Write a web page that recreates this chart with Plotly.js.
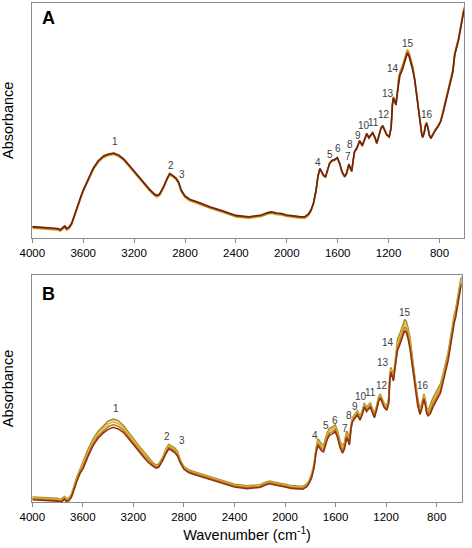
<!DOCTYPE html>
<html>
<head>
<meta charset="utf-8">
<script src="https://cdn.plot.ly/plotly-3.0.1.min.js"></script>
<style>html,body{margin:0;padding:0;background:#fff;}#chart{width:472px;height:548px;}</style>
</head>
<body>
<div id="chart"></div>
<script>
// Wavenumber grid (cm-1) shared by all spectra
const wavenumbers = [4000,3900,3800,3780,3760,3745,3730,3710,3690,3670,
3650,3620,3600,3560,3520,3480,3440,3400,3360,3320,
3280,3240,3200,3160,3120,3080,3040,3020,3000,2970,
2940,2920,2900,2870,2850,2830,2800,2760,2700,2600,
2500,2400,2300,2200,2150,2120,2080,2040,2000,1950,
1900,1860,1830,1810,1790,1770,1755,1740,1725,1710,
1695,1680,1665,1647,1625,1603,1585,1565,1545,1530,
1512,1500,1490,1478,1468,1450,1427,1407,1390,1372,
1355,1340,1325,1305,1293,1275,1260,1246,1230,1215,
1195,1180,1170,1162,1150,1142,1130,1120,1110,1095,
1080,1065,1053,1040,1025,1010,995,980,965,950,
940,932,920,910,901,890,878,867,850,830,
810,790,770,750,730,710,695,680,670,660,
650,640,630,620,610,600];

// Panel A spectra (relative absorbance)
const absA_yellow = [0.040,0.036,0.032,0.027,0.034,0.043,0.032,0.039,0.056,0.090,
0.124,0.166,0.196,0.247,0.290,0.322,0.341,0.350,0.354,0.345,
0.328,0.303,0.277,0.249,0.224,0.200,0.179,0.173,0.179,0.209,
0.247,0.267,0.260,0.247,0.230,0.196,0.171,0.156,0.145,0.124,
0.107,0.088,0.082,0.090,0.100,0.103,0.098,0.096,0.090,0.085,
0.083,0.082,0.094,0.111,0.144,0.199,0.259,0.291,0.276,0.261,
0.257,0.284,0.312,0.325,0.329,0.338,0.314,0.276,0.257,0.272,
0.310,0.293,0.280,0.327,0.363,0.378,0.410,0.389,0.412,0.440,
0.423,0.434,0.444,0.421,0.399,0.434,0.463,0.474,0.455,0.436,
0.427,0.473,0.571,0.601,0.584,0.571,0.627,0.690,0.711,0.728,
0.754,0.788,0.803,0.792,0.767,0.732,0.680,0.616,0.539,0.480,
0.448,0.433,0.452,0.482,0.493,0.470,0.439,0.429,0.448,0.465,
0.480,0.501,0.547,0.590,0.633,0.675,0.718,0.790,0.818,0.833,
0.854,0.884,0.918,0.952,0.974,0.990];
const absA_orange = [0.044,0.040,0.036,0.031,0.038,0.047,0.036,0.043,0.060,0.094,
0.128,0.170,0.200,0.251,0.294,0.326,0.345,0.354,0.358,0.349,
0.332,0.307,0.281,0.253,0.228,0.204,0.183,0.177,0.183,0.213,
0.251,0.271,0.264,0.251,0.234,0.200,0.175,0.160,0.149,0.128,
0.111,0.092,0.086,0.094,0.104,0.107,0.102,0.100,0.094,0.089,
0.087,0.086,0.098,0.115,0.146,0.201,0.261,0.293,0.278,0.263,
0.259,0.286,0.314,0.327,0.331,0.340,0.316,0.278,0.259,0.274,
0.312,0.295,0.282,0.329,0.365,0.380,0.412,0.391,0.414,0.442,
0.425,0.436,0.446,0.423,0.401,0.436,0.465,0.476,0.457,0.438,
0.429,0.470,0.568,0.598,0.581,0.568,0.624,0.680,0.701,0.718,
0.744,0.778,0.793,0.782,0.757,0.722,0.676,0.612,0.535,0.476,
0.444,0.429,0.448,0.478,0.489,0.466,0.435,0.425,0.444,0.461,
0.476,0.497,0.540,0.583,0.626,0.668,0.711,0.783,0.811,0.826,
0.847,0.877,0.911,0.945,0.967,0.983];
const absA_dark = [0.047,0.043,0.039,0.034,0.041,0.050,0.039,0.046,0.063,0.097,
0.131,0.173,0.203,0.254,0.297,0.329,0.348,0.357,0.361,0.352,
0.335,0.310,0.284,0.256,0.231,0.207,0.186,0.180,0.186,0.216,
0.254,0.274,0.267,0.254,0.237,0.203,0.178,0.163,0.152,0.131,
0.114,0.095,0.089,0.097,0.107,0.110,0.105,0.103,0.097,0.092,
0.090,0.089,0.101,0.118,0.148,0.203,0.263,0.295,0.280,0.265,
0.261,0.288,0.316,0.329,0.333,0.342,0.318,0.280,0.261,0.276,
0.314,0.297,0.284,0.331,0.367,0.382,0.414,0.393,0.416,0.444,
0.427,0.438,0.448,0.425,0.403,0.438,0.467,0.478,0.459,0.440,
0.431,0.467,0.565,0.595,0.578,0.565,0.621,0.672,0.693,0.710,
0.736,0.770,0.785,0.774,0.749,0.714,0.672,0.608,0.531,0.472,
0.442,0.427,0.446,0.476,0.487,0.464,0.433,0.423,0.442,0.459,
0.474,0.495,0.535,0.578,0.621,0.663,0.706,0.778,0.806,0.821,
0.842,0.872,0.906,0.940,0.962,0.978];

// Panel B spectra (relative absorbance)
const absB_olive = [0.022,0.020,0.016,0.010,0.016,0.024,0.014,0.018,0.034,0.071,
0.107,0.147,0.175,0.230,0.277,0.311,0.333,0.356,0.365,0.358,
0.337,0.311,0.280,0.250,0.222,0.197,0.170,0.163,0.167,0.195,
0.236,0.254,0.248,0.236,0.222,0.186,0.156,0.141,0.130,0.112,
0.096,0.078,0.071,0.076,0.088,0.092,0.087,0.084,0.078,0.072,
0.068,0.068,0.078,0.094,0.124,0.169,0.234,0.279,0.267,0.255,
0.251,0.277,0.307,0.325,0.330,0.340,0.315,0.270,0.245,0.263,
0.313,0.297,0.281,0.339,0.369,0.385,0.402,0.378,0.401,0.436,
0.417,0.427,0.436,0.407,0.389,0.424,0.461,0.476,0.455,0.434,
0.422,0.457,0.567,0.593,0.572,0.557,0.612,0.684,0.716,0.736,
0.762,0.792,0.804,0.794,0.764,0.719,0.645,0.580,0.515,0.455,
0.422,0.410,0.430,0.462,0.476,0.452,0.412,0.404,0.430,0.458,
0.478,0.498,0.520,0.563,0.608,0.658,0.708,0.763,0.803,0.828,
0.848,0.878,0.913,0.953,0.980,0.993];
const absB_yellow = [0.018,0.016,0.012,0.006,0.012,0.020,0.010,0.014,0.030,0.065,
0.101,0.141,0.165,0.220,0.267,0.301,0.323,0.344,0.353,0.346,
0.327,0.301,0.272,0.242,0.214,0.189,0.165,0.158,0.162,0.190,
0.229,0.247,0.241,0.229,0.215,0.182,0.152,0.137,0.126,0.108,
0.092,0.074,0.067,0.072,0.084,0.088,0.083,0.080,0.074,0.068,
0.064,0.064,0.074,0.090,0.118,0.163,0.228,0.269,0.257,0.245,
0.241,0.267,0.297,0.315,0.320,0.330,0.305,0.260,0.235,0.253,
0.303,0.287,0.271,0.333,0.363,0.379,0.396,0.372,0.395,0.430,
0.411,0.421,0.430,0.401,0.383,0.418,0.455,0.470,0.449,0.428,
0.416,0.449,0.559,0.585,0.564,0.549,0.604,0.668,0.700,0.720,
0.746,0.776,0.788,0.778,0.748,0.703,0.635,0.570,0.505,0.445,
0.414,0.402,0.422,0.454,0.468,0.444,0.404,0.396,0.417,0.445,
0.465,0.485,0.507,0.551,0.596,0.646,0.696,0.751,0.791,0.816,
0.836,0.866,0.901,0.941,0.968,0.981];
const absB_orange = [0.014,0.012,0.008,0.002,0.008,0.016,0.006,0.010,0.026,0.059,
0.095,0.135,0.155,0.210,0.257,0.291,0.313,0.332,0.341,0.334,
0.317,0.291,0.264,0.234,0.206,0.181,0.161,0.154,0.158,0.186,
0.223,0.241,0.235,0.223,0.209,0.178,0.148,0.133,0.122,0.104,
0.088,0.070,0.063,0.068,0.080,0.084,0.079,0.076,0.070,0.064,
0.060,0.060,0.070,0.086,0.112,0.157,0.222,0.259,0.247,0.235,
0.231,0.257,0.287,0.305,0.310,0.320,0.295,0.250,0.225,0.243,
0.293,0.277,0.261,0.327,0.357,0.373,0.390,0.366,0.389,0.424,
0.405,0.415,0.424,0.395,0.377,0.412,0.449,0.464,0.443,0.422,
0.410,0.441,0.551,0.577,0.556,0.541,0.596,0.652,0.684,0.704,
0.730,0.760,0.772,0.762,0.732,0.687,0.625,0.560,0.495,0.435,
0.406,0.394,0.414,0.446,0.460,0.436,0.396,0.388,0.403,0.431,
0.451,0.471,0.493,0.539,0.584,0.634,0.684,0.739,0.779,0.804,
0.824,0.854,0.889,0.929,0.956,0.969];
const absB_brown = [0.010,0.008,0.004,0.001,0.004,0.012,0.002,0.006,0.022,0.053,
0.089,0.129,0.145,0.200,0.247,0.281,0.303,0.320,0.329,0.322,
0.307,0.281,0.256,0.226,0.198,0.173,0.156,0.149,0.153,0.181,
0.216,0.234,0.228,0.216,0.202,0.174,0.144,0.129,0.118,0.100,
0.084,0.066,0.059,0.064,0.076,0.080,0.075,0.072,0.066,0.060,
0.056,0.056,0.066,0.082,0.106,0.151,0.216,0.249,0.237,0.225,
0.221,0.247,0.277,0.295,0.300,0.310,0.285,0.240,0.215,0.233,
0.283,0.267,0.251,0.321,0.351,0.367,0.384,0.360,0.383,0.418,
0.399,0.409,0.418,0.389,0.371,0.406,0.443,0.458,0.437,0.416,
0.404,0.433,0.543,0.569,0.548,0.533,0.588,0.636,0.668,0.688,
0.714,0.744,0.756,0.746,0.716,0.671,0.615,0.550,0.485,0.425,
0.398,0.386,0.406,0.438,0.452,0.428,0.388,0.380,0.390,0.418,
0.438,0.458,0.480,0.527,0.572,0.622,0.672,0.727,0.767,0.792,
0.812,0.842,0.877,0.917,0.944,0.957];

// Tick labels
const tickValues = [4000,3600,3200,2800,2400,2000,1600,1200,800];
const tickLabels = ["4000","3600","3200","2800","2400","2000","1600","1200","800"];

// Band labels (peak numbers) and where they sit, in data units
const peakLabels = ["1","2","3","4","5","6","7","8","9","10","11","12","13","14","15","16"];
const peakA_wn  = [3350,2912,2826,1752,1663,1598,1521,1503,1440,1393,1320,1238,1207,1163,1050,896];
const peakA_abs = [0.409,0.307,0.271,0.321,0.356,0.378,0.345,0.399,0.435,0.477,0.490,0.523,0.616,0.722,0.827,0.527];
const peakB_wn  = [3340,2932,2818,1763,1678,1605,1523,1492,1446,1399,1325,1235,1225,1185,1051,906];
const peakB_abs = [0.410,0.288,0.269,0.291,0.336,0.361,0.322,0.380,0.419,0.463,0.482,0.512,0.615,0.702,0.834,0.515];

const FONT = 'Liberation Sans, Arial, sans-serif';
const W = 472, H = 548;

function line(y, color, xa, ya) {
  return {x: wavenumbers, y: y, type: 'scatter', mode: 'lines', xaxis: xa, yaxis: ya,
          line: {color: color, width: 1.6}, hoverinfo: 'skip'};
}

const traces = [
  line(absA_yellow, '#d8b935', 'x', 'y'),
  line(absA_orange, '#b9581d', 'x', 'y'),
  line(absA_dark,   '#6a2410', 'x', 'y'),
  line(absB_olive,  '#a08c2c', 'x2', 'y2'),
  line(absB_yellow, '#dcb83a', 'x2', 'y2'),
  line(absB_orange, '#cf7723', 'x2', 'y2'),
  line(absB_brown,  '#8c3512', 'x2', 'y2')
];

const annotations = [];
peakLabels.forEach((t, i) => {
  annotations.push({x: peakA_wn[i], y: peakA_abs[i], xref: 'x', yref: 'y', text: t, showarrow: false,
    xanchor: 'center', yanchor: 'middle', font: {family: FONT, size: 10, color: '#404040'}});
  annotations.push({x: peakB_wn[i], y: peakB_abs[i], xref: 'x2', yref: 'y2', text: t, showarrow: false,
    xanchor: 'center', yanchor: 'middle', font: {family: FONT, size: 10, color: '#404040'}});
});
annotations.push({x: 48.5/W, y: 1 - 18.5/H, xref: 'paper', yref: 'paper', text: '<b>A</b>', showarrow: false,
  xanchor: 'center', yanchor: 'middle', font: {family: FONT, size: 18, color: '#000'}});
annotations.push({x: 48.5/W, y: 1 - 293.5/H, xref: 'paper', yref: 'paper', text: '<b>B</b>', showarrow: false,
  xanchor: 'center', yanchor: 'middle', font: {family: FONT, size: 18, color: '#000'}});

const frame = {showline: true, linecolor: '#8a8a8a', linewidth: 1, mirror: true, showgrid: false, zeroline: false};
function xax(domain, range, anchor, title) {
  const a = Object.assign({}, frame, {
    domain: domain, range: range, anchor: anchor, tickmode: 'array', tickvals: tickValues, ticktext: tickLabels,
    ticks: 'outside', ticklen: 4, tickcolor: '#8a8a8a', tickwidth: 1,
    tickfont: {family: FONT, size: 11.5, color: '#000'}
  });
  if (title) a.title = {text: title, font: {family: FONT, size: 14.5, color: '#000'}, standoff: 8};
  return a;
}
function yax(domain, anchor) {
  return Object.assign({}, frame, {
    domain: domain, range: [0, 1], anchor: anchor, showticklabels: false, ticks: '',
    title: {text: 'Absorbance', font: {family: FONT, size: 14.5, color: '#000'}, standoff: 14}
  });
}

const layout = {
  width: W, height: H,
  margin: {l: 0, r: 0, t: 0, b: 0},
  paper_bgcolor: '#fff', plot_bgcolor: '#fff',
  showlegend: false, hovermode: false,
  font: {family: FONT, color: '#000'},
  xaxis:  xax([32.3/W, 464.3/W], [4000, 605], 'y', null),
  yaxis:  yax([1 - 237.7/H, 1 - 3/H], 'x'),
  xaxis2: xax([32.3/W, 461.7/W], [4000, 602], 'y2', 'Wavenumber (cm<sup>-1</sup>)'),
  yaxis2: yax([1 - 502/H, 1 - 275/H], 'x2'),
  annotations: annotations
};

Plotly.newPlot('chart', traces, layout, {displayModeBar: false, staticPlot: true});
</script>
</body>
</html>
